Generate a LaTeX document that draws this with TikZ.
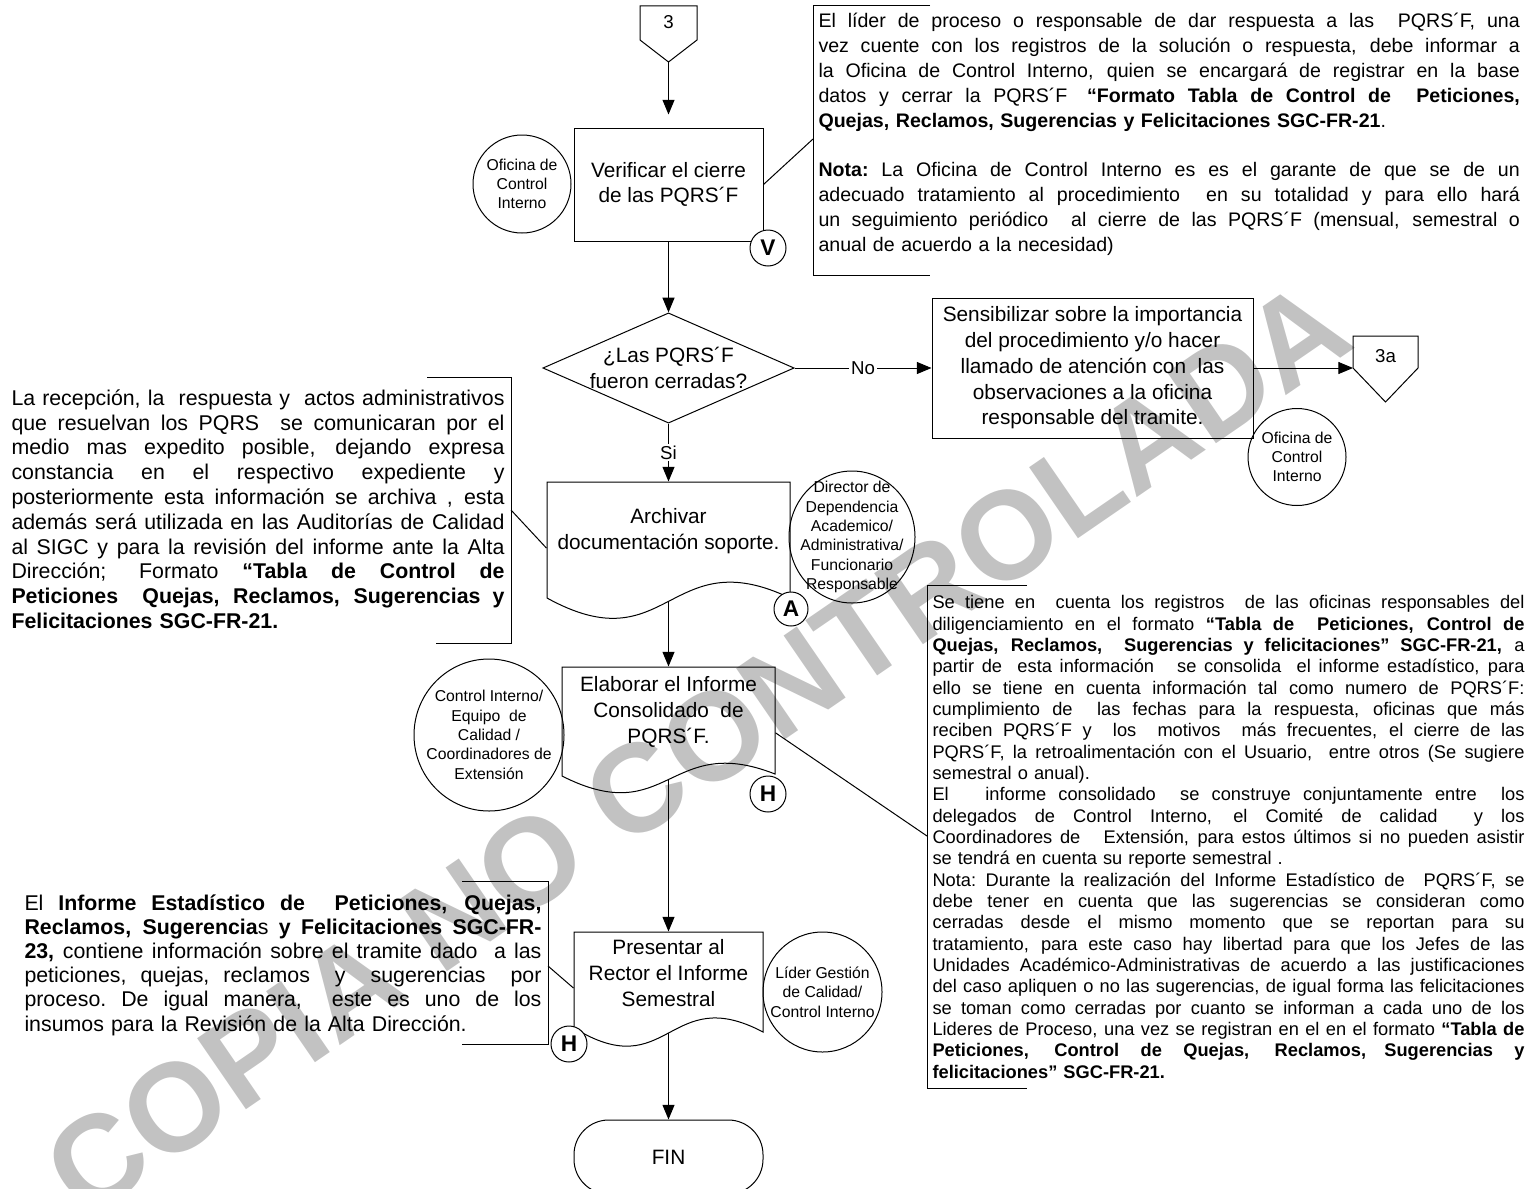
\documentclass[tikz,border=0pt]{standalone}
\usepackage{fontspec}
\setmainfont{Liberation Sans}
\usetikzlibrary{positioning,shapes.geometric,arrows.meta,calc}

\newcommand{\flowfont}{\fontsize{15.6}{19.3}\selectfont}
\newcommand{\actorfont}{\fontsize{11.8}{14.5}\selectfont}
\newcommand{\stampfont}{\fontsize{17}{17}\selectfont\bfseries}
\newcommand{\lblfont}{\fontsize{14}{14}\selectfont}
\newcommand{\notew}{100pt}
\newcommand{\jl}[1]{{\spaceskip=0.278em plus 3em minus 0.08em\xspaceskip=\spaceskip\makebox[\notew][s]{#1}}}

\tikzset{
  procbox/.style={draw, rectangle, align=center, inner sep=0pt, font=\flowfont},
  docbox/.style={align=center, inner sep=0pt, font=\flowfont},
  decision/.style={draw, diamond, aspect=2.28, align=center, inner sep=0pt, font=\flowfont},
  terminal/.style={draw, rectangle, rounded corners=26pt, align=center, inner sep=0pt, font=\flowfont},
  actor/.style={align=center, inner sep=0pt, font=\actorfont},
  stamp/.style={draw, circle, fill=white, inner sep=0pt, minimum size=27pt, font=\stampfont},
  note/.style={anchor=north west, align=left, inner sep=0pt},
  lbl/.style={fill=white, inner sep=1.5pt, font=\lblfont},
  arr/.style={-{Triangle[length=11pt,width=9pt]}},
  wmark/.style={text=black!24, font=\fontsize{94}{94}\selectfont\bfseries, inner sep=0pt},
}

\begin{document}
\begin{tikzpicture}[x=0.75pt,y=0.75pt,yscale=-1,xscale=1,line width=0.75pt]
        \useasboundingbox (0,0) rectangle (1540,1188);
        % Watermark
        \node[wmark, rotate=34.5] (wm) at (697,748) {COPIA NO CONTROLADA};

        %Shape: Off-page connector 3
        \draw (640,6) -- (697,6) -- (697,40) -- (668.5,62) -- (640,40) -- cycle;
        \node[font=\lblfont] (pg3) at (668.5,22) {3};
        \coordinate (pg3tip) at (668.5,62);

        %Shape: Rectangle (verificar)
        \node[procbox, minimum width=141.75pt, minimum height=84.75pt] (verif) at (668.5,184.5) {Verificar el cierre\\de las PQRS´F};
        \draw[arr, shorten >=9.75pt] (pg3tip) -- (verif);
        \node[actor] (ofic1) at (522,184) {Oficina de\\Control\\Interno};
        \draw (ofic1.center) ellipse [x radius=49, y radius=49];
        \node[stamp] (stV) at (768,248) {V};

        % Text Node (nota superior)
        \draw (930,6) -- (813,6) -- (813,275) -- (930,275);
        \coordinate (brk1) at (813,139);
        \draw (verif.east) -- (brk1);
        \node[note, text width=526pt, font=\fontsize{14.7}{18.6}\selectfont] (note1) at (818,13) {%
          \renewcommand{\notew}{526pt}%
          \jl{El líder de proceso o responsable de dar respuesta a las\ \ PQRS´F, una}\\
          \jl{vez cuente con los registros de la solución o respuesta, debe informar a}\\
          \jl{la Oficina de Control Interno, quien se encargará de registrar en la base}\\
          \jl{datos y cerrar la PQRS´F\quad\textbf{“Formato Tabla de Control de\ \ Peticiones,}}\\
          \textbf{Quejas, Reclamos, Sugerencias y Felicitaciones SGC-FR-21}.\\[18.6pt]
          \jl{\textbf{Nota:} La Oficina de Control Interno es es el garante de que se de un}\\
          \jl{adecuado tratamiento al procedimiento\ \ en su totalidad y para ello hará}\\
          \jl{un seguimiento periódico\ \ al cierre de las PQRS´F (mensual, semestral o}\\
          anual de acuerdo a la necesidad)};

        %Shape: Diamond
        \node[decision] (dec) at (668.5,368) {¿Las PQRS´F\\fueron cerradas?};
        \draw[arr] (verif) -- (dec);

        %Shape: Rectangle (sensibilizar)
        \node[procbox, minimum width=240.75pt, minimum height=105pt] (sens) at (1092.5,368) {Sensibilizar sobre la importancia\\del procedimiento y/o hacer\\llamado de atención con\ \ las\\observaciones a la oficina\\responsable del tramite.};
        \draw[arr] (dec) -- node[lbl] {No} (sens);
        \draw (1353,336) -- (1418,336) -- (1418,368) -- (1385.5,402) -- (1353,368) -- cycle;
        \node[font=\lblfont] (pg3a) at (1385.5,356) {3a};
        \coordinate (pg3ain) at (1353,368);
        \draw[arr] (sens) -- (pg3ain);
        \node[actor] (ofic2) at (1297,457) {Oficina de\\Control\\Interno};
        \draw (ofic2.center) ellipse [x radius=49, y radius=48.5];

        %Shape: Document (archivar)
        \node[docbox, minimum width=182.25pt, minimum height=73.5pt] (arch) at (668.5,531) {Archivar\\documentación soporte.};
        \draw (547,482) -- (790,482) -- (790,598) .. controls (668.5,540) and (668.5,665) .. (547,598) -- cycle;
        \coordinate (archout) at (668.5,601);
        \draw[arr] (dec) -- node[lbl] {Si} (arch);
        \node[stamp, minimum size=25.5pt] (stA) at (791,609) {A};
        \node[actor] (dirdep) at (852,537) {Director de\\Dependencia\\Academico/\\Administrativa/\\Funcionario\\Responsable};
        \draw (dirdep.center) ellipse [x radius=63, y radius=66];

        % Text Node (nota izquierda)
        \draw (427,377) -- (511,377) -- (511,643) -- (436,643);
        \coordinate (brk2) at (511,510);
        \draw (brk2) -- (arch.188);
        \node[note, text width=369.75pt, font=\fontsize{16}{18.6}\selectfont] (note2) at (11,389) {%
          \renewcommand{\notew}{369.75pt}%
          \jl{La recepción, la\ \ respuesta y\ \ actos administrativos}\\
          \jl{que resuelvan los PQRS\ \ se comunicaran por el}\\
          \jl{medio mas expedito posible, dejando expresa}\\
          \jl{constancia en el respectivo expediente y}\\
          \jl{posteriormente esta información se archiva , esta}\\
          \jl{además será utilizada en las Auditorías de Calidad}\\
          \jl{al SIGC y para la revisión del informe ante la Alta}\\
          \jl{Dirección; Formato \textbf{“Tabla de Control de}}\\
          \jl{\textbf{Peticiones\ \ Quejas, Reclamos, Sugerencias y}}\\
          \textbf{Felicitaciones SGC-FR-21.}};

        %Shape: Document (elaborar)
        \node[docbox, minimum width=159.75pt, minimum height=67.5pt] (elab) at (668.5,712) {Elaborar el Informe\\Consolidado\ \ de\\PQRS´F.};
        \draw (562,667) -- (775,667) -- (775,774) .. controls (668.5,732) and (668.5,830) .. (562,776) -- cycle;
        \coordinate (elabout) at (668.5,780);
        \draw[arr] (archout) -- (elab);
        \node[stamp] (stH1) at (768,794) {H};
        \node[actor] (ctrlint) at (489,735) {Control Interno/\\Equipo\ \ de\\Calidad /\\Coordinadores de\\Extensión};
        \draw (ctrlint.center) ellipse [x radius=75, y radius=76];

        % Text Node (nota derecha)
        \draw (1027,585) -- (927,585) -- (927,1088) -- (1027,1088);
        \coordinate (brk3) at (927,836);
        \draw (elab.-11) -- (brk3);
        \node[note, text width=444pt, font=\fontsize{13.7}{16}\selectfont] (note3) at (932,595) {%
          \renewcommand{\notew}{444pt}%
          \jl{Se tiene en\ \ cuenta los registros\ \ de las oficinas responsables del}\\
          \jl{diligenciamiento en el formato \textbf{“Tabla de\ \ Peticiones, Control de}}\\
          \jl{\textbf{Quejas, Reclamos,\ \ Sugerencias y felicitaciones” SGC-FR-21,} a}\\
          \jl{partir de\ \ esta información\ \ \ se consolida\ \ el informe estadístico, para}\\
          \jl{ello se tiene en cuenta información tal como numero de PQRS´F:}\\
          \jl{cumplimiento de\ \ las fechas para la respuesta, oficinas que más}\\
          \jl{reciben PQRS´F y\ \ los\ \ motivos\ \ más frecuentes, el cierre de las}\\
          \jl{PQRS´F, la retroalimentación con el Usuario,\ \ entre otros (Se sugiere}\\
          semestral o anual).\\
          \jl{El\ \ \ informe consolidado\ \ se construye conjuntamente entre\ \ los}\\
          \jl{delegados de Control Interno, el Comité de calidad\quad\ y los}\\
          \jl{Coordinadores de\ \ \ Extensión, para estos últimos si no pueden asistir}\\
          se tendrá en cuenta su reporte semestral .\\
          \jl{Nota: Durante la realización del Informe Estadístico de\ \ PQRS´F, se}\\
          \jl{debe tener en cuenta que las sugerencias se consideran como}\\
          \jl{cerradas desde el mismo momento que se reportan para su}\\
          \jl{tratamiento, para este caso hay libertad para que los Jefes de las}\\
          \jl{Unidades Académico-Administrativas de acuerdo a las justificaciones}\\
          \jl{del caso apliquen o no las sugerencias, de igual forma las felicitaciones}\\
          \jl{se toman como cerradas por cuanto se informan a cada uno de los}\\
          \jl{Lideres de Proceso, una vez se registran en el en el formato \textbf{“Tabla de}}\\
          \jl{\textbf{Peticiones, Control de Quejas, Reclamos,\quad Sugerencias y}}\\
          \textbf{felicitaciones” SGC-FR-21.}};

        %Shape: Document (presentar)
        \node[docbox, minimum width=141.75pt, minimum height=61.5pt] (pres) at (668.5,973) {Presentar al\\Rector el Informe\\Semestral};
        \draw (574,932) -- (763,932) -- (763,1032) .. controls (668.5,982) and (668.5,1086) .. (574,1028) -- cycle;
        \coordinate (presout) at (668.5,1033);
        \draw[arr] (elabout) -- (pres);
        \node[stamp] (stH2) at (569,1044) {H};
        \node[actor] (lider) at (822.5,992) {Líder Gestión\\de Calidad/\\Control Interno};
        \draw (lider.center) ellipse [x radius=59.5, y radius=60];

        % Text Node (nota inferior)
        \draw (462,881) -- (548,881) -- (548,1044) -- (462,1044);
        \coordinate (brk4) at (548,966);
        \draw (brk4) -- (pres.189);
        \node[note, text width=387.75pt, font=\fontsize{16}{18.15}\selectfont] (note4) at (24,894) {%
          \renewcommand{\notew}{387.75pt}%
          \jl{El \textbf{Informe Estadístico de\ \ Peticiones, Quejas,}}\\
          \jl{\textbf{Reclamos, Sugerencia}s \textbf{y Felicitaciones SGC-FR-}}\\
          \jl{\textbf{23,} contiene información sobre el tramite dado\ \ a las}\\
          \jl{peticiones, quejas, reclamos\ \ y\ \ sugerencias\ \ por}\\
          \jl{proceso. De igual manera,\ \ este es uno de los}\\
          insumos para la Revisión de la Alta Dirección.};

        %Shape: Terminal
        \node[terminal, minimum width=141.75pt, minimum height=55.5pt] (fin) at (668.5,1157) {FIN};
        \draw[arr] (presout) -- (fin);
\end{tikzpicture}
\end{document}
